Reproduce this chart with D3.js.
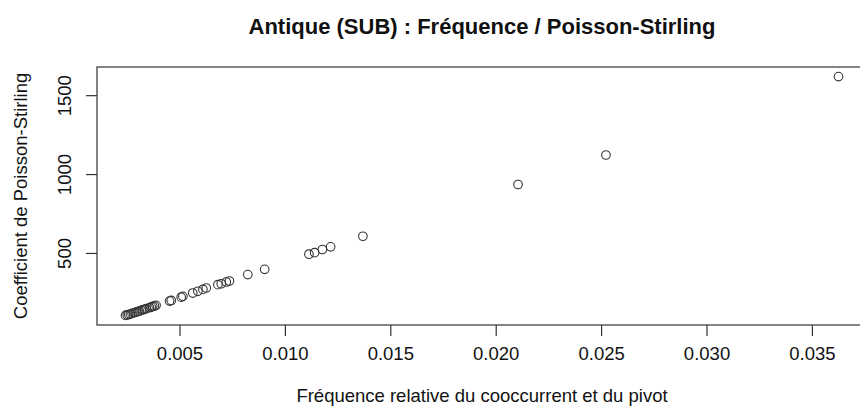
<!DOCTYPE html>
<html>
<head>
<meta charset="utf-8">
<script src="https://cdn.jsdelivr.net/npm/d3@7"></script>
<style>
	body { margin: 0; background: #fff; }
	text { font-family: "Liberation Sans", Arial, sans-serif; fill: #111; }
</style>
</head>
<body>
<div id="canvas"></div>
<script>
// relative frequency of the co-occurrent and the pivot
const frequence = [
	0.00244, 0.00252, 0.00259, 0.00267, 0.00275, 0.00285, 0.00294, 0.00302, 0.00310,
	0.00318, 0.00326, 0.00334, 0.00342, 0.00358, 0.00366, 0.00373, 0.00381, 0.00389,
	0.00453, 0.00461, 0.00508, 0.00516,
	0.00563, 0.00587, 0.00611, 0.00627,
	0.00682, 0.00698, 0.00722, 0.00737,
	0.00824, 0.00904,
	0.01114, 0.01141, 0.01178, 0.01217, 0.01370,
	0.02106, 0.02523, 0.03626
];
// Poisson-Stirling coefficient
const poissonStirling = [
	104, 107, 110, 113, 117, 121, 125, 128, 131,
	136, 140, 143, 147, 153, 157, 161, 164, 168,
	195, 199, 220, 225,
	246, 257, 269, 278,
	299, 305, 316, 322,
	363, 396,
	492, 502, 522, 539, 606,
	934, 1121, 1618
];
const xTicks = [0.005, 0.010, 0.015, 0.020, 0.025, 0.030, 0.035];
const yTicks = [500, 1000, 1500];

const config = {
	width: 860,
	height: 412,
	left: 97, right: 867, top: 67, bottom: 325,
	font: 18.5,
	titleFont: 22,
	tick: 11,
	radius: 4.3,
	ink: "#333"
};

const points = frequence.map((f, i) => ({x: f, y: poissonStirling[i]}));

// R style axis range: data range padded by 4% each side
function padded(values){
	const [lo, hi] = d3.extent(values);
	const d = (hi - lo) * 0.04;
	return [lo - d, hi + d];
}

const x = d3.scaleLinear().domain(padded(frequence)).range([config.left, config.right]);
const y = d3.scaleLinear().domain(padded(poissonStirling)).range([config.bottom, config.top]);

let svg = d3.select("#canvas").append("svg")
	.attr("width", config.width)
	.attr("height", config.height);

// box
svg.append("rect")
	.attr("x", config.left).attr("y", config.top)
	.attr("width", config.right - config.left)
	.attr("height", config.bottom - config.top)
	.attr("fill", "none")
	.attr("stroke", config.ink)
	.attr("stroke-width", 1.2);

const xAxis = d3.axisBottom(x).tickValues(xTicks).tickSize(config.tick).tickPadding(11)
	.tickFormat(d3.format(".3f"));
svg.append("g")
	.attr("transform", `translate(0,${config.bottom})`)
	.call(xAxis)
	.call(g => {
		g.select(".domain").remove();
		g.selectAll("line").attr("stroke", config.ink).attr("stroke-width", 1.2);
		g.selectAll("text").attr("font-size", config.font).attr("fill", "#111")
			.style("font-family", "'Liberation Sans', Arial, sans-serif");
	});

const yAxis = d3.axisLeft(y).tickValues(yTicks).tickSize(config.tick).tickFormat(d3.format("d"));
svg.append("g")
	.attr("transform", `translate(${config.left},0)`)
	.call(yAxis)
	.call(g => {
		g.select(".domain").remove();
		g.selectAll("line").attr("stroke", config.ink).attr("stroke-width", 1.2);
		// labels parallel to the axis
		g.selectAll("text")
			.attr("font-size", config.font).attr("fill", "#111")
			.style("font-family", "'Liberation Sans', Arial, sans-serif")
			.attr("text-anchor", "middle")
			.attr("x", null).attr("dy", null)
			.attr("transform", "translate(-26,0) rotate(-90)");
	});

svg.append("g").selectAll("circle")
	.data(points)
	.join("circle")
	.attr("cx", d => x(d.x))
	.attr("cy", d => y(d.y))
	.attr("r", config.radius)
	.attr("fill", "none")
	.attr("stroke", config.ink)
	.attr("stroke-width", 1.1);

const midX = (config.left + config.right) / 2;
const midY = (config.top + config.bottom) / 2;

svg.append("text")
	.attr("x", midX).attr("y", 34)
	.attr("text-anchor", "middle")
	.attr("font-size", config.titleFont)
	.attr("font-weight", "bold")
	.text("Antique (SUB) : Fréquence / Poisson-Stirling");

svg.append("text")
	.attr("x", midX).attr("y", 402)
	.attr("text-anchor", "middle")
	.attr("font-size", config.font)
	.text("Fréquence relative du cooccurrent et du pivot");

svg.append("text")
	.attr("transform", `translate(27,${midY}) rotate(-90)`)
	.attr("text-anchor", "middle")
	.attr("font-size", config.font)
	.text("Coefficient de Poisson-Stirling");
</script>
</body>
</html>
